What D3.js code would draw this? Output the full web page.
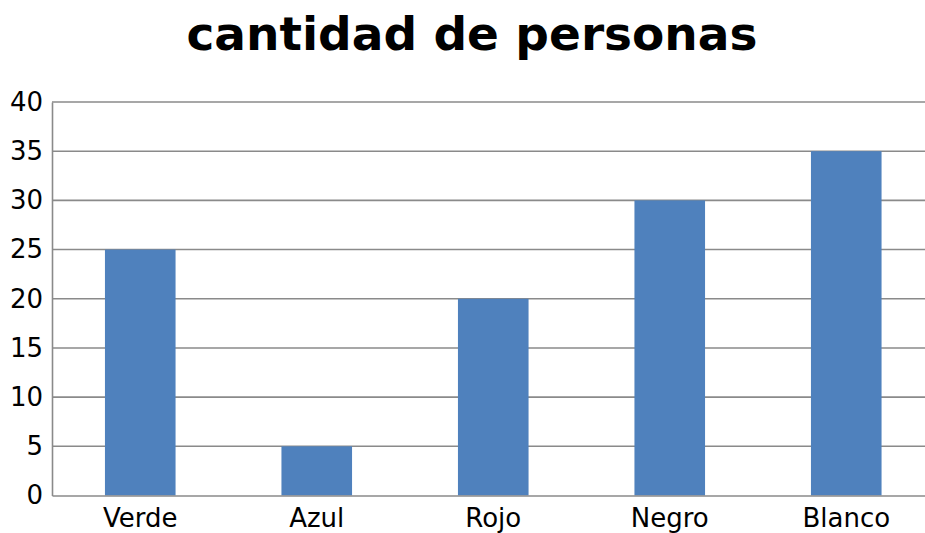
<!DOCTYPE html>
<html>
<head>
<meta charset="utf-8">
<script src="https://cdn.jsdelivr.net/npm/d3@7"></script>
<style>
html,body{margin:0;padding:0;background:#fff;}
svg{display:block;}
</style>
</head>
<body>
<svg id="chart" width="925" height="533"></svg>
<script>
const title = "cantidad de personas";
const categories = ["Verde", "Azul", "Rojo", "Negro", "Blanco"];
const values = [25, 5, 20, 30, 35];
const yTicks = [0, 5, 10, 15, 20, 25, 30, 35, 40];

(function () {
const mL = 52, mR = 934.5, mT = 102, mB = 495.5;
const svg = d3.select("#chart");

const x = d3.scaleBand().domain(categories).range([mL, mR]).padding(0);
const y = d3.scaleLinear().domain([0, 40]).range([mB, mT]);
const barW = x.bandwidth() * 0.4;

// gridlines
svg.append("g").selectAll("line").data(yTicks.filter(d => d > 0)).join("line")
  .attr("x1", mL).attr("x2", mR)
  .attr("y1", d => y(d)).attr("y2", d => y(d))
  .attr("stroke", "#8a8a8a").attr("stroke-width", 1.6);

// bars
svg.append("g").selectAll("rect").data(categories).join("rect")
  .attr("x", (d) => x(d) + (x.bandwidth() - barW) / 2)
  .attr("width", barW)
  .attr("y", (d, i) => y(values[i]))
  .attr("height", (d, i) => y(0) - y(values[i]))
  .attr("fill", "#4f81bd");

// y axis
const yAxis = d3.axisLeft(y).tickValues(yTicks).tickSize(0).tickPadding(9);
const gy = svg.append("g").attr("transform", `translate(${mL},0)`).call(yAxis);
gy.select(".domain").attr("stroke", "#8a8a8a").attr("stroke-width", 1.6);
gy.selectAll("text").attr("font-family", "DejaVu Sans").attr("font-size", 26).attr("fill", "#000");

// x axis
const xAxis = d3.axisBottom(x).tickSize(0).tickPadding(13);
const gx = svg.append("g").attr("transform", `translate(0,${mB})`).call(xAxis);
gx.select(".domain").attr("stroke", "#8a8a8a").attr("stroke-width", 1.6);
gx.selectAll("text").attr("font-family", "DejaVu Sans").attr("font-size", 26).attr("fill", "#000");

// title
svg.append("text").attr("x", 472).attr("y", 50)
  .attr("text-anchor", "middle")
  .attr("font-family", "DejaVu Sans").attr("font-weight", "bold").attr("font-size", 47)
  .attr("fill", "#000").text(title);
})();
</script>
</body>
</html>
